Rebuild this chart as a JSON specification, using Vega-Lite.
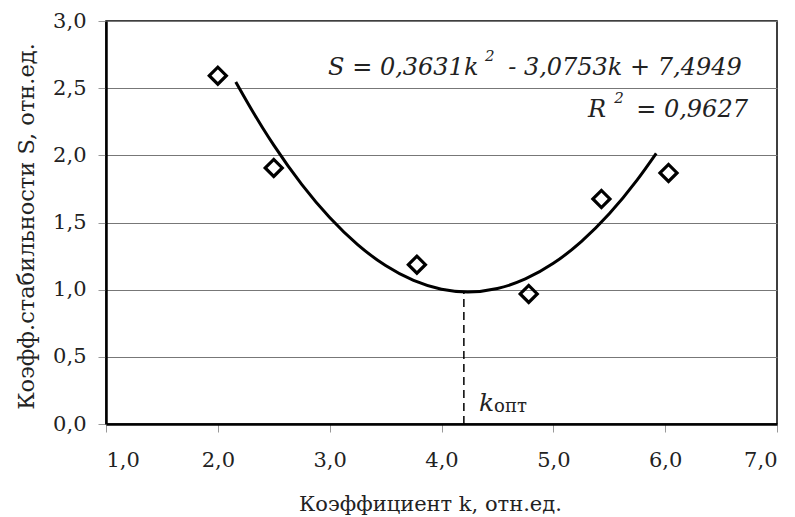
{
  "$schema": "https://vega.github.io/schema/vega-lite/v6.json",
  "width": 671,
  "height": 403,
  "autosize": "none",
  "padding": {"left": 106, "top": 21, "right": 18, "bottom": 93},
  "background": "white",
  "config": {
    "font": "DejaVu Serif",
    "view": {"stroke": "black", "strokeWidth": 1.5},
    "text": {"font": "DejaVu Serif"},
    "axis": {
      "labelFont": "DejaVu Serif",
      "titleFont": "DejaVu Serif",
      "labelFontSize": 21,
      "titleFontWeight": "normal",
      "labelColor": "#222",
      "titleColor": "#222",
      "domainColor": "black",
      "domainWidth": 2.5,
      "tickColor": "#999",
      "tickSize": 8,
      "labelExpr": "replace(format(datum.value, '.1f'), '.', ',')"
    }
  },
  "datasets": {
    "points": [
      {"k": 2.0, "S": 2.593},
      {"k": 2.5, "S": 1.906},
      {"k": 3.78, "S": 1.186},
      {"k": 4.78, "S": 0.968},
      {"k": 5.43, "S": 1.675},
      {"k": 6.03, "S": 1.869}
    ],
    "curve": [
      {"k": 2.16, "S": 2.546},
      {"k": 2.3, "S": 2.3425},
      {"k": 2.4, "S": 2.2056},
      {"k": 2.5, "S": 2.076},
      {"k": 2.75, "S": 1.7838},
      {"k": 3.0, "S": 1.5369},
      {"k": 3.25, "S": 1.3354},
      {"k": 3.5, "S": 1.1793},
      {"k": 3.75, "S": 1.0686},
      {"k": 4.0, "S": 1.0033},
      {"k": 4.235, "S": 0.9835},
      {"k": 4.5, "S": 1.0088},
      {"k": 4.75, "S": 1.0797},
      {"k": 5.0, "S": 1.1959},
      {"k": 5.25, "S": 1.3575},
      {"k": 5.5, "S": 1.5645},
      {"k": 5.75, "S": 1.8169},
      {"k": 5.92, "S": 2.0145}
    ],
    "kopt": [{"k": 4.2, "S0": 0, "S1": 0.98}],
    "mainText": [
      {"label": "S = 0,3631k", "k": 2.986, "S": 2.601},
      {"label": "- 3,0753k + 7,4949", "k": 4.596, "S": 2.601},
      {"label": "R", "k": 5.311, "S": 2.288},
      {"label": "= 0,9627", "k": 5.741, "S": 2.288}
    ],
    "kText": [
      {"label": "k", "k": 4.336, "S": 0.099}
    ],
    "supText": [
      {"label": "2", "k": 4.39, "S": 2.705},
      {"label": "2", "k": 5.544, "S": 2.392}
    ],
    "subText": [
      {"label": "опт", "k": 4.47, "S": 0.088}
    ]
  },
  "encoding": {
    "x": {
      "field": "k",
      "type": "quantitative",
      "scale": {"domain": [1, 7], "nice": false, "zero": false},
      "axis": {
        "title": "Коэффициент k, отн.ед.",
        "titleFontSize": 21,
        "values": [1, 2, 3, 4, 5, 6, 7],
        "grid": false,
        "labelPadding": 17,
        "titleX": 324,
        "titleY": 86,
        "titleAlign": "center",
        "titleBaseline": "alphabetic"
      }
    },
    "y": {
      "field": "S",
      "type": "quantitative",
      "scale": {"domain": [0, 3], "nice": false},
      "axis": {
        "title": "Коэфф.стабильности S, отн.ед.",
        "titleFontSize": 22.5,
        "values": [0, 0.5, 1, 1.5, 2, 2.5, 3],
        "grid": true,
        "gridColor": "#777",
        "gridWidth": 1.2,
        "labelPadding": 12,
        "titleX": -73,
        "titleY": 205,
        "titleAngle": -90,
        "titleAlign": "center",
        "titleBaseline": "alphabetic"
      }
    }
  },
  "layer": [
    {
      "data": {"name": "kopt"},
      "mark": {"type": "rule", "color": "black", "strokeWidth": 1.5, "strokeDash": [8, 5]},
      "encoding": {
        "x": {"field": "k", "type": "quantitative"},
        "y": {"field": "S0", "type": "quantitative"},
        "y2": {"field": "S1"}
      }
    },
    {
      "data": {"name": "curve"},
      "mark": {"type": "line", "color": "black", "strokeWidth": 3, "interpolate": "monotone"},
      "encoding": {}
    },
    {
      "data": {"name": "points"},
      "mark": {"type": "point", "shape": "diamond", "filled": false, "stroke": "black", "strokeWidth": 3.2, "size": 290, "opacity": 1},
      "encoding": {}
    },
    {
      "data": {"name": "mainText"},
      "mark": {"type": "text", "align": "left", "baseline": "alphabetic", "fontSize": 24, "fontStyle": "italic", "color": "#222"},
      "encoding": {"text": {"field": "label"}}
    },
    {
      "data": {"name": "kText"},
      "mark": {"type": "text", "align": "left", "baseline": "alphabetic", "fontSize": 25, "fontStyle": "italic", "color": "#222"},
      "encoding": {"text": {"field": "label"}}
    },
    {
      "data": {"name": "supText"},
      "mark": {"type": "text", "align": "left", "baseline": "alphabetic", "fontSize": 15, "fontStyle": "italic", "color": "#222"},
      "encoding": {"text": {"field": "label"}}
    },
    {
      "data": {"name": "subText"},
      "mark": {"type": "text", "align": "left", "baseline": "alphabetic", "fontSize": 18, "color": "#222"},
      "encoding": {"text": {"field": "label"}}
    }
  ]
}
